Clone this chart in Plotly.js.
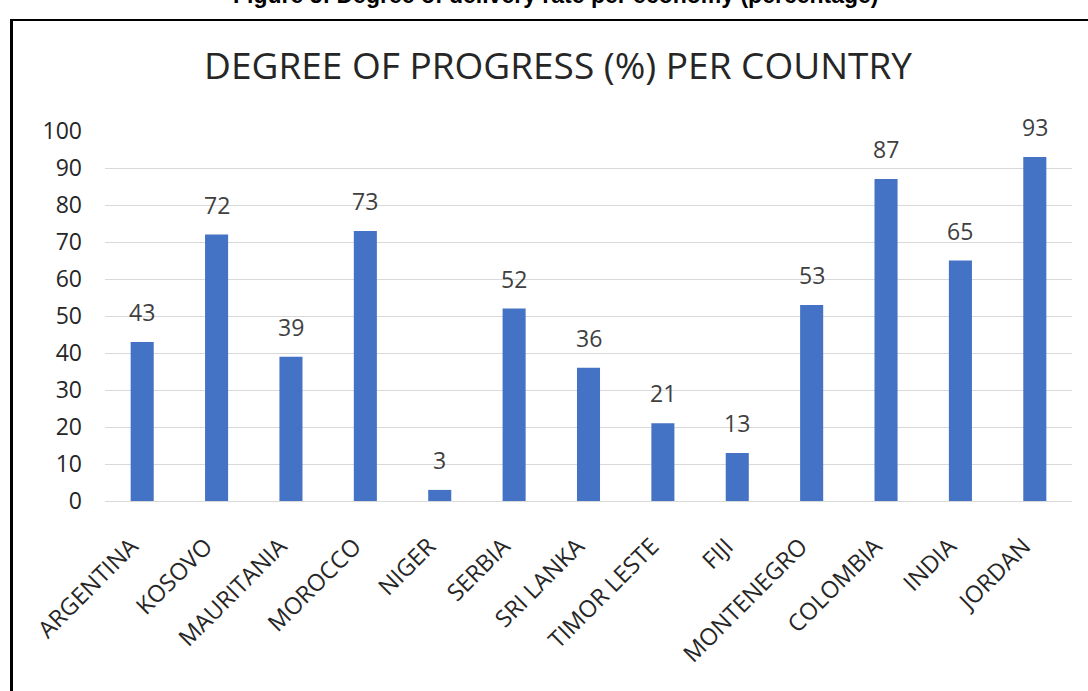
<!DOCTYPE html>
<html>
<head>
<meta charset="utf-8">
<script src="https://cdn.plot.ly/plotly-3.0.1.min.js"></script>
<style>html,body{margin:0;padding:0;background:#fff;overflow:hidden}#chart{width:1088px;height:691px}</style>
</head>
<body>
<div id="chart"></div>
<script>
const countries = ["ARGENTINA","KOSOVO","MAURITANIA","MOROCCO","NIGER","SERBIA","SRI LANKA","TIMOR LESTE","FIJI","MONTENEGRO","COLOMBIA","INDIA","JORDAN"];
const progress = [43,72,39,73,3,52,36,21,13,53,87,65,93];
const yTicks = [0,10,20,30,40,50,60,70,80,90,100];
const chartTitle = "DEGREE OF PROGRESS (%) PER COUNTRY";
const figureCaption = "Figure 5: Degree of delivery rate per economy (percentage)";

const W = 1088, H = 691;
const M = {l:105, r:16, t:131, b:190};
const pw = W - M.l - M.r, ph = H - M.t - M.b;
const px = x => (x - M.l) / pw;
const py = y => (H - M.b - y) / ph;

const labelAnn = countries.map((c,i)=>({
  x: c, y: progress[i], xref:'x', yref:'y', text: String(progress[i]),
  showarrow:false, yanchor:'bottom', yshift:12,
  font:{family:'Open Sans, sans-serif', size:23, color:'#404040'}
}));

const layout = {
  width:W, height:H,
  margin:M,
  paper_bgcolor:'#ffffff', plot_bgcolor:'#ffffff',
  showlegend:false,
  title:{text:chartTitle, x:558/W, xref:'container', xanchor:'center', y:1-(66/H), yanchor:'middle',
    font:{family:'Open Sans, sans-serif', size:37, color:'#262626'}},
  xaxis:{type:'category', tickangle:-45, showgrid:false, zeroline:false, showline:false, ticks:'',
    ticklabelstandoff:26, ticklabelshift:-11,
    tickfont:{family:'Open Sans, sans-serif', size:23.5, color:'#262626'}},
  yaxis:{range:[0,100], tickvals:yTicks, showgrid:true, gridcolor:'#d9d9d9', gridwidth:1,
    zeroline:true, zerolinecolor:'#d9d9d9', zerolinewidth:1, showline:false, ticks:'',
    ticklabelstandoff:22,
    tickfont:{family:'Open Sans, sans-serif', size:23, color:'#262626'}},
  bargap:0.69,
  annotations: labelAnn.concat([{
    text:'<b>'+figureCaption+'</b>', xref:'paper', yref:'paper', x:px(555), y:py(-5),
    xanchor:'center', yanchor:'middle', showarrow:false,
    font:{family:'Liberation Sans, Arial, sans-serif', size:23, color:'#000'}
  }]),
  shapes:[
    {type:'line', xref:'paper', yref:'paper', x0:px(11.5), x1:px(11.5), y0:py(19), y1:py(H+5), line:{color:'#000', width:3}},
    {type:'line', xref:'paper', yref:'paper', x0:px(10), x1:px(W+5), y0:py(20), y1:py(20), line:{color:'#000', width:2}}
  ]
};

const data = [{type:'bar', x:countries, y:progress, marker:{color:'#4472C4'}, hoverinfo:'x+y'}];
Plotly.newPlot('chart', data, layout, {displayModeBar:false, staticPlot:true});
</script>
</body>
</html>
